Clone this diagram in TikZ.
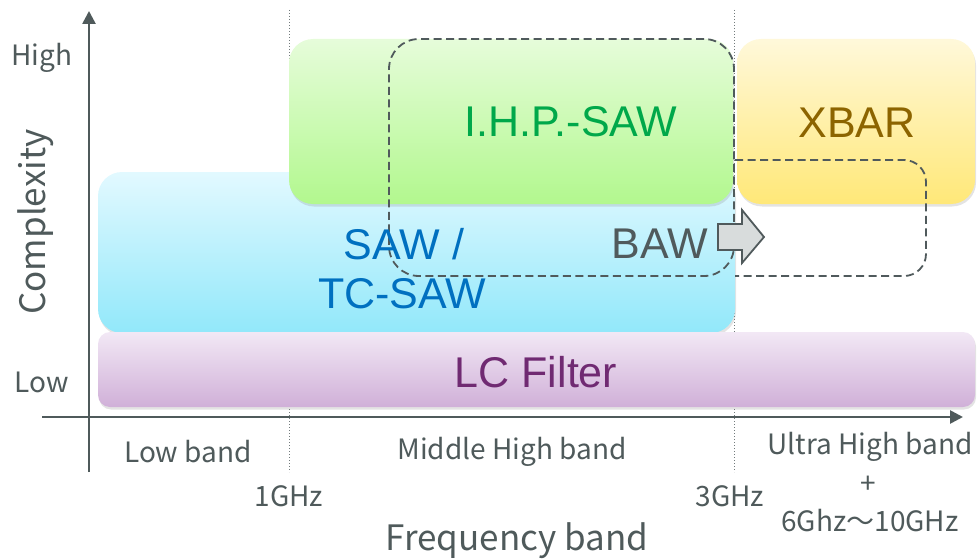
\documentclass[tikz,border=0pt]{standalone}
\usepackage{fontspec}
\setmainfont{Liberation Sans}
\newfontfamily\axfont{Noto Sans CJK JP}
\usetikzlibrary{arrows.meta,shadows}
\definecolor{axisgray}{HTML}{4F5A5B}
\definecolor{ihpgreen}{HTML}{00A84A}
\definecolor{sawblue}{HTML}{0070C0}
\definecolor{xbarbrown}{HTML}{8C6400}
\definecolor{lcpurple}{HTML}{702A72}
\definecolor{bawgray}{HTML}{505A5C}
\tikzset{
  band/.style={rectangle, rounded corners=24pt, inner sep=0pt,
    drop shadow={opacity=0.22, shadow xshift=1pt, shadow yshift=-2.5pt}},
  boxlabel/.style={font=\fontsize{43}{50}\selectfont, inner sep=0pt},
  axlabel/.style={font=\axfont\fontsize{28}{32}\selectfont, text=axisgray, inner sep=0pt},
  biglabel/.style={axlabel, font=\axfont\fontsize{35}{40}\selectfont},
  axisline/.style={draw=axisgray, line width=2.6pt, -{Triangle[width=13pt,length=13pt]}},
  divider/.style={draw=axisgray!80, line width=1pt, dotted},
  dashbox/.style={draw=bawgray, line width=1.8pt, dash pattern=on 8pt off 4.5pt, rounded corners=30pt}
}
\begin{document}
\begin{tikzpicture}[x=1pt,y=-1pt]
\useasboundingbox (0,0) rectangle (977,559);
% dividers
\coordinate (d1t) at (289,10); \coordinate (d1b) at (289,472);
\coordinate (d2t) at (734,10); \coordinate (d2b) at (734,472);
\draw[divider] (d1t) -- (d1b);
\draw[divider] (d2t) -- (d2b);
% bands
\node[band, minimum width=637pt, minimum height=161pt, top color={rgb,255:red,226;green,249;blue,255}, bottom color={rgb,255:red,146;green,232;blue,250}] (saw) at (416.5,252.5) {};
\node[band, rounded corners=12pt, minimum width=877pt, minimum height=75pt, top color={rgb,255:red,242;green,232;blue,245}, bottom color={rgb,255:red,208;green,176;blue,216}] (lc) at (536.5,369.5) {};
\node[band, minimum width=444pt, minimum height=165pt, top color={rgb,255:red,230;green,252;blue,218}, bottom color={rgb,255:red,178;green,248;blue,142}] (ihp) at (511,121.5) {};
\node[band, minimum width=238pt, minimum height=165pt, top color={rgb,255:red,255;green,248;blue,218}, bottom color={rgb,255:red,255;green,232;blue,120}] (xbar) at (856,121.5) {};
% dashed BAW regions
\node[dashbox, minimum width=345pt, minimum height=237pt, inner sep=0pt] (bawbox) at (561.5,157.5) {};
\draw[dashbox, rounded corners=22pt] (735,160) -- (926,160) -- (926,276) -- (735,276);
% BAW arrow
\draw[fill={rgb,255:red,216;green,220;blue,220}, draw=bawgray, line width=1.8pt, line join=miter]
  (718,224) -- (742,224) -- (742,210) -- (764,237) -- (742,263) -- (742,250) -- (718,250) -- cycle;
% labels
\node[boxlabel, text=ihpgreen] (tihp) at (571,122) {I.H.P.-SAW};
\node[boxlabel, text=xbarbrown] (txbar) at (857,123) {XBAR};
\node[boxlabel, text=sawblue] (tsaw1) at (404,244) {SAW /};
\node[boxlabel, text=sawblue] (tsaw2) at (402,294) {TC-SAW};
\node[boxlabel, text=bawgray] (tbaw) at (660,244) {BAW};
\node[boxlabel, text=lcpurple] (tlc) at (536,372) {LC Filter};
% axes
\coordinate (yb) at (89,472); \coordinate (yt) at (89,11);
\coordinate (xl) at (42,417); \coordinate (xr) at (963,417);
\draw[axisline] (yb) -- (yt);
\draw[axisline] (xl) -- (xr);
% axis labels
\node[axlabel] (high) at (42,58) {High};
\node[axlabel] (low) at (42,382) {Low};
\node[biglabel, rotate=90] (cx) at (36,222) {Complexity};
\node[axlabel] (lb) at (188,452) {Low band};
\node[axlabel] (mb) at (512,452) {Middle High band};
\node[axlabel] (ub) at (870,447) {Ultra High band};
\node[axlabel] (plus) at (868,485) {+};
\node[axlabel] (ghz) at (870,521) {6Ghz～10GHz};
\node[axlabel] (g1) at (289,496) {1GHz};
\node[axlabel] (g3) at (730,496) {3GHz};
\node[biglabel] (fb) at (517,541) {Frequency band};
\end{tikzpicture}
\end{document}
